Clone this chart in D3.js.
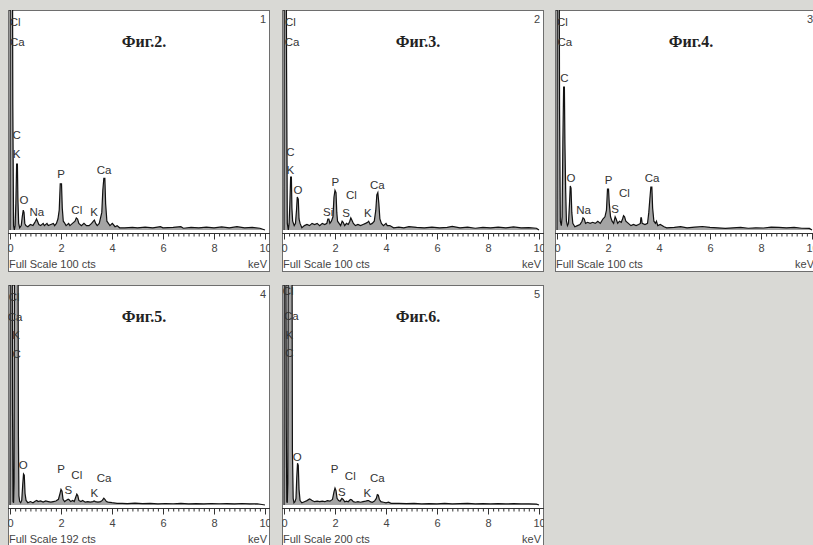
<!DOCTYPE html>
<html>
<head>
<meta charset="utf-8">
<script src="https://cdn.jsdelivr.net/npm/d3@7"></script>
<style>
body { margin: 0; background: #d9d9d5; }
svg { display: block; }
</style>
</head>
<body>
<script>
var w = 813;
var h = 545;

// figure captions, panel numbers and full scale (counts) of each spectrum
var figNames = ["Фиг.2.", "Фиг.3.", "Фиг.4.", "Фиг.5.", "Фиг.6."];
var panelNums = ["1", "2", "3", "4", "5"];
var fullScale = [100, 100, 100, 192, 200];
var tickLabels = [0, 2, 4, 6, 8, 10];

// spectra: [keV, counts]
var spec2 = [[0,0],[0.005,57],[0.01,160],[0.09,160],[0.11,57],[0.14,2],[0.17,0],
  [0.2,2],[0.23,12],[0.26,30],[0.29,30],[0.31,14],[0.34,3],[0.38,1],
  [0.44,2],[0.48,6],[0.52,9],[0.55,8],[0.58,3],[0.62,2],
  [0.7,1.5],[0.8,2.5],[0.9,2],[0.95,3],[1.0,4],[1.04,5],[1.08,4],[1.13,2.5],[1.2,2],[1.3,3],[1.35,2],[1.45,3],[1.5,2],[1.6,2.5],[1.7,3],[1.75,2],[1.82,3],
  [1.88,5],[1.93,9],[1.97,21],[2.02,21],[2.05,10],[2.09,4],[2.15,3],[2.2,2],[2.3,3],[2.35,2],[2.45,3],
  [2.55,4],[2.6,5.5],[2.65,5],[2.7,3],[2.8,2],[2.9,3],[3.0,2],[3.1,2],[3.2,3],
  [3.27,4],[3.31,4.5],[3.36,3],[3.42,2],[3.5,3],
  [3.6,8],[3.64,18],[3.68,23.5],[3.72,23.5],[3.75,12],[3.8,4],[3.86,3],[3.92,2],[4.01,3],[4.05,2.5],[4.12,1.5],[4.2,2],[4.3,1],
  [4.5,1],[4.8,1.2],[5.0,1],[5.3,1.3],[5.6,1],[5.9,1.5],[6.0,1],[6.4,1.2],[6.7,1.5],[6.8,0.8],[7.1,1.2],[7.4,1],[7.7,1.3],[8.0,1],[8.3,1.4],[8.6,1],[8.9,1.5],[9.2,1],[9.5,1.2],[9.8,0.8],[10,0]];

var spec3 = [[0,0],[0.005,76],[0.01,160],[0.08,160],[0.1,76],[0.13,3],[0.17,0],
  [0.2,3],[0.23,12],[0.26,24],[0.29,24],[0.31,10],[0.34,4],[0.4,2],
  [0.45,3],[0.49,9],[0.52,15],[0.56,14],[0.59,5],[0.63,3],[0.7,1],
  [0.8,2],[0.9,2.5],[1.0,2],[1.1,3],[1.2,2.5],[1.3,3],[1.4,2],[1.5,3],[1.6,2.5],[1.68,3],
  [1.72,5],[1.76,5],[1.8,3],[1.86,4],[1.92,6],
  [1.96,15],[2.0,18],[2.04,17],[2.07,8],[2.1,4],[2.16,3],[2.22,2],
  [2.28,4],[2.32,3.5],[2.38,2],[2.45,3],[2.52,2.5],
  [2.58,4],[2.62,5.5],[2.66,4.5],[2.72,3],[2.8,2],[2.9,2.5],[3.0,2],[3.1,2.5],[3.2,3],
  [3.28,3.5],[3.32,4],[3.38,2.5],[3.46,3],[3.54,4],
  [3.6,9],[3.64,16],[3.68,17],[3.72,12],[3.76,5],[3.82,3],[3.9,2],[4.0,3],[4.05,2],[4.15,2],[4.3,1],
  [4.5,1.3],[4.7,1],[4.9,1.5],[5.2,1.2],[5.5,1],[5.8,1.3],[6.1,1],[6.4,1.2],[6.6,1.6],[6.9,1],[7.2,1.3],[7.5,0.8],[7.8,1.2],[8.1,1],[8.4,1.3],[8.7,1],[9.0,1.4],[9.3,1],[9.6,1.1],[9.9,0.8],[10,0]];

var spec4 = [[0,0],[0.005,55],[0.01,160],[0.08,160],[0.1,55],[0.13,4],[0.17,2],
  [0.2,6],[0.23,40],[0.26,65],[0.29,65],[0.31,40],[0.34,18],[0.37,4],[0.41,2],
  [0.45,3],[0.49,12],[0.52,20],[0.55,19],[0.58,8],[0.62,3],[0.7,1.5],[0.8,2],[0.9,2.5],
  [0.98,4],[1.02,5.5],[1.07,5],[1.12,3],[1.2,3.5],[1.3,3],[1.4,3.5],[1.5,3],[1.6,4],[1.7,3],
  [1.8,5],[1.88,6],[1.94,9],[1.98,18.6],[2.02,18.6],[2.05,12],[2.1,6],[2.16,4],
  [2.22,3],[2.28,6],[2.32,5],[2.38,3],[2.45,4],[2.52,3.5],
  [2.57,5],[2.61,6.5],[2.65,6],[2.7,4],[2.8,3],[2.9,2],[3.0,2.5],[3.1,2],[3.2,2.5],[3.27,3],
  [3.29,5.5],[3.31,5.5],[3.34,3],[3.45,2.5],[3.55,3],
  [3.6,8],[3.64,14],[3.68,19.5],[3.72,19.5],[3.75,10],[3.8,4],[3.86,3],[3.9,4],[3.95,2],[4.05,2.5],[4.2,1.5],[4.3,1],
  [4.6,1.2],[4.85,1.5],[5.1,1],[5.4,1.3],[5.7,1.6],[6.0,1.2],[6.3,1],[6.6,0.7],[6.9,1],[7.2,1.2],[7.5,0.8],[7.8,1],[8.1,0.9],[8.4,1.3],[8.7,1.2],[9.0,1],[9.3,1.2],[9.6,0.8],[9.9,0.7],[10,0]];

var spec5 = [[0,0],[0.005,110],[0.01,300],[0.08,300],[0.1,80],[0.12,3],[0.14,2],[0.16,20],[0.18,300],[0.31,300],[0.33,60],[0.35,8],[0.38,3],[0.42,2],
  [0.46,4],[0.5,18],[0.53,27],[0.56,26],[0.59,10],[0.63,4],[0.7,2],
  [0.8,3],[0.9,2],[1.0,3.5],[1.05,4],[1.1,3],[1.2,3.5],[1.3,2.5],[1.4,3.5],[1.5,3],[1.6,2.5],[1.7,3],[1.8,3.5],[1.9,5],
  [1.96,10],[2.0,13.6],[2.04,12],[2.08,5],[2.14,3],[2.2,4],
  [2.28,5],[2.32,4.5],[2.38,3],[2.46,4],[2.52,3],
  [2.58,7],[2.62,9.5],[2.66,8],[2.7,4],[2.78,3],[2.85,4],[2.95,2.5],[3.05,3],[3.15,2.5],[3.25,3],
  [3.3,3.5],[3.35,3],[3.45,2.5],[3.55,3],
  [3.62,4],[3.68,6],[3.72,5],[3.78,3],[3.85,2.5],[4.0,2],[4.2,1.5],[4.4,1.5],
  [4.6,1.2],[4.9,1.6],[5.2,1.2],[5.5,1.4],[5.8,1],[6.1,1.3],[6.4,1.1],[6.7,1.4],[7.0,1],[7.3,1.2],[7.6,1],[7.9,1.3],[8.2,1.1],[8.5,1.2],[8.8,1],[9.1,1.3],[9.4,1],[9.7,1.1],[10,0]];

var spec6 = [[0,0],[0.005,115],[0.01,300],[0.07,300],[0.09,70],[0.11,3],[0.13,2],[0.15,20],[0.17,300],[0.31,300],[0.33,50],[0.36,6],[0.39,2],[0.43,3],
  [0.47,6],[0.5,25],[0.53,38],[0.56,36],[0.59,14],[0.63,4],[0.7,2],
  [0.8,3],[0.9,4],[1.0,5.5],[1.05,5],[1.1,4],[1.2,3],[1.3,3.5],[1.4,3],[1.5,3.5],[1.6,3],[1.7,4],[1.8,3.5],[1.9,5],
  [1.96,12],[2.0,15.4],[2.04,13],[2.08,6],[2.14,4],[2.2,3.5],
  [2.27,6],[2.32,5],[2.38,3],[2.45,3.5],[2.52,3],
  [2.58,4.5],[2.62,5],[2.66,4.5],[2.72,3],[2.8,2.5],[2.9,3],[3.0,2.5],[3.1,3],[3.2,3.5],
  [3.28,4],[3.32,4],[3.38,3],[3.46,2.5],[3.55,3.5],
  [3.62,6],[3.66,9.4],[3.7,9],[3.74,5],[3.8,3],[3.9,2.5],[4.0,2],[4.1,2.5],[4.2,1.5],
  [4.5,1.5],[4.8,1.2],[5.1,1.4],[5.4,1],[5.7,1.3],[6.0,1.1],[6.3,1.4],[6.6,1],[6.9,1.2],[7.2,1.5],[7.5,1],[7.8,1.2],[8.1,1],[8.4,1.3],[8.7,1],[9.0,1.2],[9.3,1],[9.6,1.1],[9.9,0.8],[10,0]];

// element labels: [text, keV, counts]
var labels2 = [["Cl",0.2,94.5],["Ca",0.29,85.5],["C",0.26,43],["K",0.26,34.5],["O",0.55,13.6],["Na",1.05,8.2],
  ["P",2.0,25.5],["Cl",2.62,9],["K",3.3,8.2],["Ca",3.69,27.3]];
var labels3 = [["Cl",0.25,94.7],["Ca",0.32,85.6],["C",0.25,35.6],["K",0.25,27.3],["O",0.55,18.2],["Si",1.73,8.3],
  ["P",2.01,22],["S",2.43,7.6],["Cl",2.64,16],["K",3.29,7.6],["Ca",3.66,20.5]];
var labels4 = [["Cl",0.21,94.7],["Ca",0.31,85.6],["C",0.29,69],["O",0.55,23.5],["Na",1.04,9],
  ["P",2.02,22.7],["S",2.28,9.4],["Cl",2.64,17],["Ca",3.73,23.5]];
var labels5 = [["Cl",0.16,181.8],["Ca",0.2,164.5],["K",0.24,148.7],["C",0.26,132],["O",0.52,34.6],
  ["P",2.0,31.8],["Cl",2.62,26],["S",2.29,13],["K",3.31,10.1],["Ca",3.69,24]];
var labels6 = [["Cl",0.16,195],["Ca",0.29,171.5],["K",0.21,155],["C",0.21,137.8],["O",0.52,43.7],
  ["P",1.98,33],["Cl",2.6,26.5],["S",2.27,12],["K",3.27,10.5],["Ca",3.66,25]];

var spectra = [spec2, spec3, spec4, spec5, spec6];
var labels = [labels2, labels3, labels4, labels5, labels6];

var colLeft = [8, 282, 555];
var rowTop = [10, 285];
var boxW = 262, boxH = 262;
var baseY = 220;

var svg = d3.select("body").append("svg").attr("width", w).attr("height", h);

var minorTicks = d3.range(0, 10.001, 0.2).map(function (d) { return +d.toFixed(1); });

spectra.forEach(function (spec, i) {
    var left = colLeft[i % 3];
    var top = rowTop[Math.floor(i / 3)];
    var g = svg.append("g").attr("transform", "translate(" + left + "," + top + ")");

    g.append("clipPath").attr("id", "clip" + i)
        .append("rect").attr("width", boxW).attr("height", boxH);

    g.append("rect")
        .attr("x", 0.5).attr("y", 0.5)
        .attr("width", boxW - 1).attr("height", boxH - 1)
        .attr("fill", "#ffffff")
        .attr("stroke", "#6e6e6e");

    var x = d3.scaleLinear().domain([0, 10]).range([2, 257]);
    var y = d3.scaleLinear().domain([0, fullScale[i]]).range([baseY, 0]);

    var inner = g.append("g").attr("clip-path", "url(#clip" + i + ")");

    var area = d3.area()
        .x(function (d) { return x(d[0]); })
        .y0(y(0))
        .y1(function (d) { return y(d[1]); });
    var line = d3.line()
        .x(function (d) { return x(d[0]); })
        .y(function (d) { return y(d[1]); });

    inner.append("path").datum(spec)
        .attr("d", area)
        .attr("fill", "#a4a4a4");
    inner.append("path").datum(spec)
        .attr("d", line)
        .attr("fill", "none")
        .attr("stroke", "#111")
        .attr("stroke-width", 1.2);

    // axis
    inner.append("line")
        .attr("x1", 0).attr("x2", boxW)
        .attr("y1", 223.5).attr("y2", 223.5)
        .attr("stroke", "#333");

    var minorAxis = inner.append("g").attr("transform", "translate(0,223.5)")
        .call(d3.axisBottom(x).tickValues(minorTicks).tickSize(3).tickFormat(""));
    var majorAxis = inner.append("g").attr("transform", "translate(0,223.5)")
        .call(d3.axisBottom(x).tickValues(tickLabels).tickSize(6).tickPadding(5).tickSizeOuter(0));
    minorAxis.select(".domain").remove();
    majorAxis.select(".domain").remove();
    inner.selectAll(".tick line").attr("stroke", "#333");
    majorAxis.selectAll("text")
        .attr("font-family", "Liberation Sans, Arial, sans-serif")
        .attr("font-size", 11)
        .attr("fill", "#444");

    inner.append("text")
        .attr("x", 1).attr("y", 258)
        .attr("font-family", "Liberation Sans, Arial, sans-serif")
        .attr("font-size", 11)
        .attr("fill", "#444")
        .text("Full Scale " + fullScale[i] + " cts");
    inner.append("text")
        .attr("x", boxW - 3).attr("y", 258)
        .attr("text-anchor", "end")
        .attr("font-family", "Liberation Sans, Arial, sans-serif")
        .attr("font-size", 11)
        .attr("fill", "#444")
        .text("keV");

    inner.append("text")
        .attr("x", boxW - 4).attr("y", 13)
        .attr("text-anchor", "end")
        .attr("font-family", "Liberation Sans, Arial, sans-serif")
        .attr("font-size", 11)
        .attr("fill", "#444")
        .text(panelNums[i]);

    inner.append("text")
        .attr("x", 136).attr("y", 37)
        .attr("text-anchor", "middle")
        .attr("font-family", "Liberation Serif, Times New Roman, serif")
        .attr("font-weight", "bold")
        .attr("font-size", 16)
        .attr("fill", "#222")
        .text(figNames[i]);

    inner.selectAll(".elem")
        .data(labels[i])
        .enter()
        .append("text")
        .attr("class", "elem")
        .attr("x", function (d) { return x(d[1]); })
        .attr("y", function (d) { return y(d[2]) + 4; })
        .attr("text-anchor", "middle")
        .attr("font-family", "Liberation Sans, Arial, sans-serif")
        .attr("font-size", 11.5)
        .attr("fill", "#333")
        .text(function (d) { return d[0]; });
});
</script>
</body>
</html>
